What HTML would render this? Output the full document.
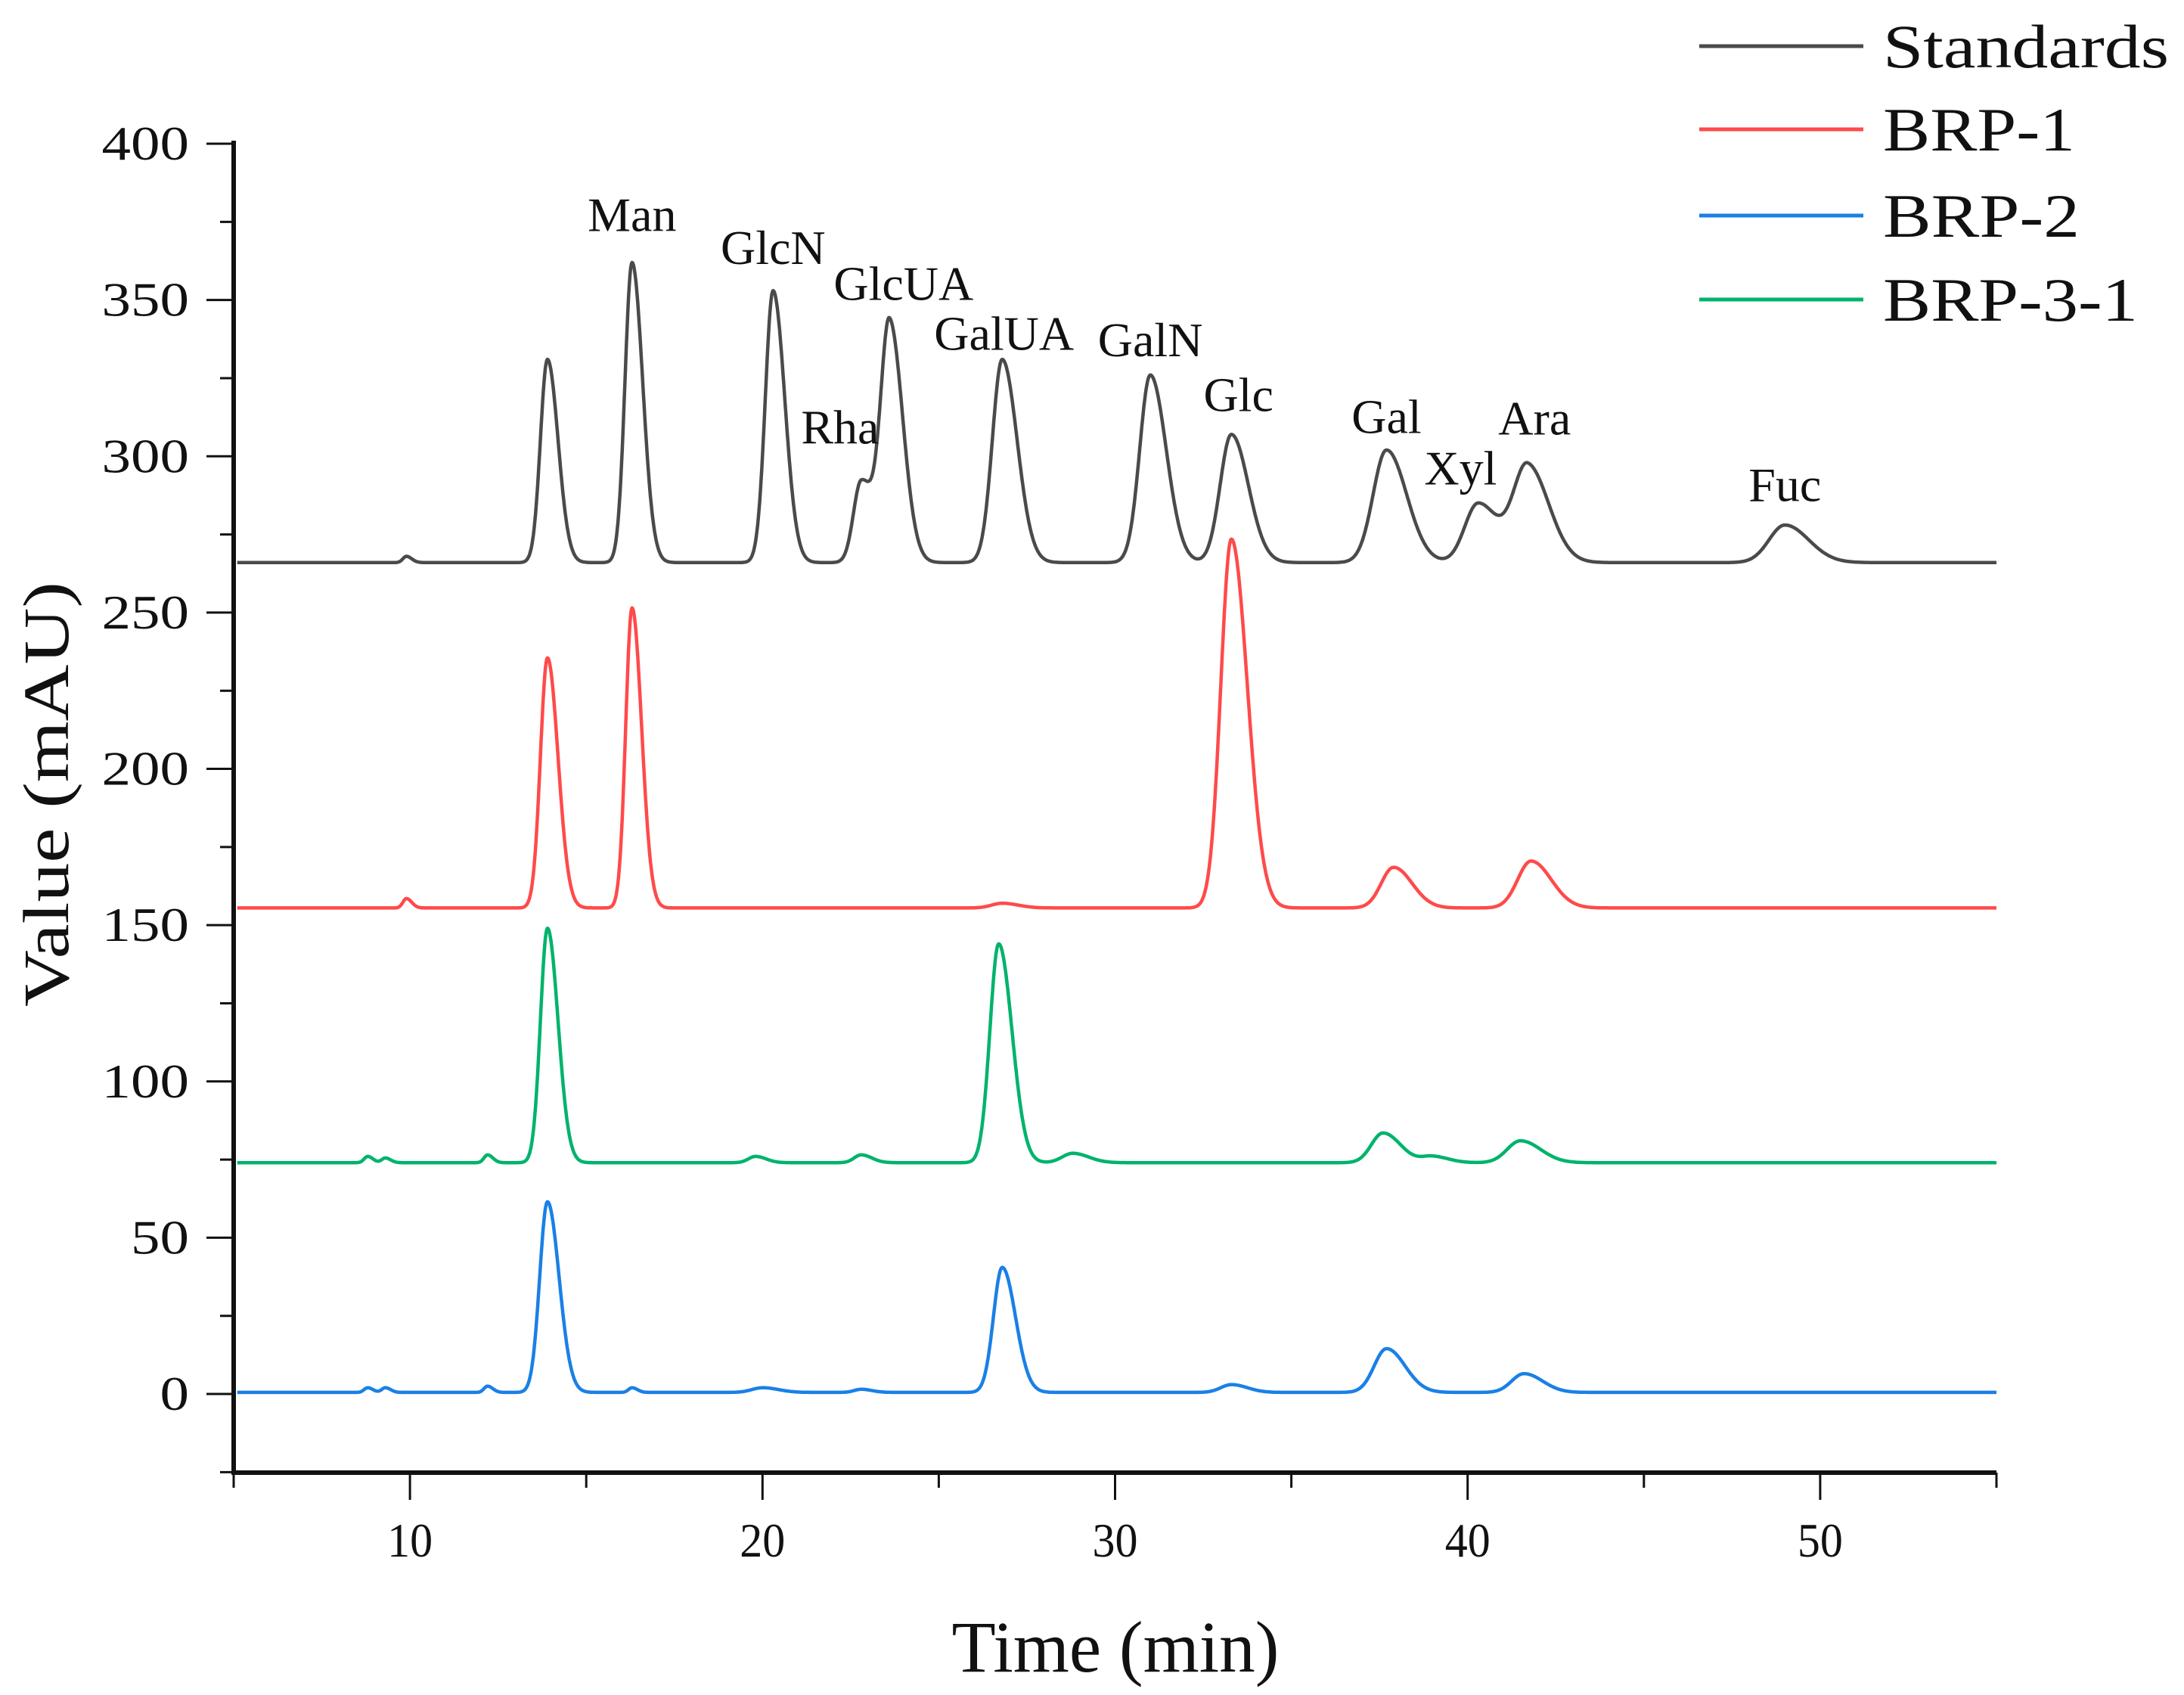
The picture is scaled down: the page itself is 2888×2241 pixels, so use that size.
<!DOCTYPE html>
<html><head><meta charset="utf-8"><style>
html,body{margin:0;padding:0;background:#fff}
svg{display:block}
text{font-family:"Liberation Serif",serif;fill:#111}
</style></head><body>
<svg id="chart" width="2888" height="2241" viewBox="0 0 2888 2241" xmlns="http://www.w3.org/2000/svg">
<g id="axes"></g>
<g id="series"></g>
<g id="labels"></g>
<g id="legend"></g>
<text x="1475" y="2210" font-size="96" text-anchor="middle" textLength="433" lengthAdjust="spacingAndGlyphs">Time (min)</text>
<text transform="translate(90,1050) rotate(-90)" font-size="86" text-anchor="middle" textLength="562" lengthAdjust="spacingAndGlyphs" fill="#222">Value (mAU)</text>
</svg>
<script>
// ---- data ----
const seriesNames = ["Standards","BRP-1","BRP-2","BRP-3-1"];
const seriesColors = ["#4a4a4a","#ff4a4a","#1a80e6","#00b36b"];
const legendWidths = [378, 254, 260, 337];
const baselines = [266, 155.5, 0.5, 74];
const stdTimes   = [9.9, 13.9, 16.3, 20.3, 22.8, 23.6, 26.8, 31.0, 33.3, 37.7, 40.3, 41.7, 49.0];
const stdHeights = [2, 65, 96, 87, 26, 77, 65, 60, 41, 36, 19, 31, 12];
const stdWidths  = [0.1, 0.2, 0.2, 0.22, 0.22, 0.25, 0.28, 0.3, 0.32, 0.38, 0.38, 0.4, 0.45];
const brp1Times   = [9.9, 13.9, 16.3, 26.8, 33.3, 37.9, 41.8];
const brp1Heights = [3, 80, 96, 1.5, 118, 13, 15];
const brp1Widths  = [0.1, 0.2, 0.18, 0.3, 0.3, 0.35, 0.38];
const brp2Times   = [8.8, 9.3, 12.2, 13.9, 16.3, 20.0, 22.8, 26.8, 33.3, 37.7, 41.6];
const brp2Heights = [1.5, 1.5, 2, 61, 1.5, 1.5, 1, 40, 2.5, 14, 6];
const brp2Widths  = [0.1, 0.1, 0.1, 0.22, 0.1, 0.3, 0.2, 0.25, 0.3, 0.35, 0.35];
const brp3Times   = [8.8, 9.3, 12.2, 13.9, 19.8, 22.8, 26.7, 28.8, 37.6, 39.0, 41.5];
const brp3Heights = [2, 1.5, 2.5, 75, 2, 2.5, 70, 3, 9.5, 2, 7];
const brp3Widths  = [0.1, 0.1, 0.1, 0.2, 0.2, 0.2, 0.25, 0.3, 0.33, 0.3, 0.38];
const peakNames = ["Man","GlcN","GlcUA","Rha","GalUA","GalN","Glc","Gal","Xyl","Ara","Fuc"];
const peakLabelTimes = [16.3, 20.3, 24.0, 22.2, 26.85, 31.0, 33.5, 37.7, 39.8, 41.9, 49.0];
const peakLabelValues = [372, 361.5, 350, 304, 334, 332, 314.5, 307.5, 291, 307, 285.7];
const yTicks = [0,50,100,150,200,250,300,350,400];
const yTickLabels = ["0","50","100","150","200","250","300","350","400"];
const xTicks = [10,20,30,40,50];
const xTickLabels = ["10","20","30","40","50"];

// ---- scales ----
const X0=309, X1=2640, XMIN=5, XMAX=55;
const Y0=1843, YPER=(1843-190)/400;
const sx = t => X0 + (t-XMIN)/(XMAX-XMIN)*(X1-X0);
const sy = v => Y0 - v*YPER;
const NS="http://www.w3.org/2000/svg";
function mk(tag, attrs, parent){const e=document.createElementNS(NS,tag);for(const k in attrs)e.setAttribute(k,attrs[k]);parent.appendChild(e);return e;}

// ---- axes ----
const ax=document.getElementById('axes');
const yAxis=mk('line',{x1:X0,y1:186,x2:X0,y2:1950,stroke:'#111','stroke-width':6},ax);


const xAxis=mk('line',{x1:X0-3,y1:1947,x2:X1,y2:1947,stroke:'#111','stroke-width':6},ax);


for(let v=-25; v<=400; v+=25){
  const major = v%50===0;
  const t=mk('line',{x1:X0-(major?36:18),y1:sy(v),x2:X0,y2:sy(v),stroke:'#111','stroke-width':3},ax);
  
  
}
yTicks.forEach((v,i)=>{
  const lab=yTickLabels[i];
  const tx=mk('text',{x:250,y:sy(v)+21,'font-size':64,'text-anchor':'end',textLength:lab.length*38.5,lengthAdjust:'spacingAndGlyphs'},ax);
  tx.textContent=lab;
  
  
});
for(let t=5; t<=55; t+=5){
  const major = t%10===0;
  const l=mk('line',{x1:sx(t),y1:1947,x2:sx(t),y2:1947+(major?36:20),stroke:'#111','stroke-width':3},ax);
  
  
}
xTicks.forEach((t,i)=>{
  const tx=mk('text',{x:sx(t),y:2058,'font-size':64,'text-anchor':'middle',textLength:60,lengthAdjust:'spacingAndGlyphs'},ax);
  tx.textContent=xTickLabels[i];
  
  
});

// ---- series ----
const sg=document.getElementById('series');
const allTimes=[stdTimes,brp1Times,brp2Times,brp3Times];
const allHeights=[stdHeights,brp1Heights,brp2Heights,brp3Heights];
const allWidths=[stdWidths,brp1Widths,brp2Widths,brp3Widths];
const seriesKeys=['standards','brp-1','brp-2','brp-3-1'];
function signal(s,t){
  let v=baselines[s];
  const T=allTimes[s],H=allHeights[s],W=allWidths[s];
  for(let i=0;i<T.length;i++){
    const d=t-T[i]; const w=d<0?W[i]:W[i]*1.5;
    v+=H[i]*Math.exp(-0.5*(d/w)*(d/w));
  }
  return v;
}
for(let s=0;s<4;s++){
  let d='';
  for(let t=XMIN+0.1;t<=XMAX+1e-9;t+=0.02){
    d+=(d?'L':'M')+sx(t).toFixed(1)+','+sy(signal(s,t)).toFixed(1);
  }
  const p=mk('path',{d:d,fill:'none',stroke:seriesColors[s],'stroke-width':4.5,'stroke-linejoin':'round'},sg);
  
  
}

// ---- peak labels ----
const lg=document.getElementById('labels');
peakNames.forEach((n,i)=>{
  const tx=mk('text',{x:sx(peakLabelTimes[i]),y:sy(peakLabelValues[i]),'font-size':64,'text-anchor':'middle'},lg);
  tx.textContent=n;
  
  
});

// ---- legend ----
const lgd=document.getElementById('legend');
const legendYs=[61,171,285,396];
seriesNames.forEach((n,i)=>{
  const l=mk('line',{x1:2247,y1:legendYs[i],x2:2464,y2:legendYs[i],stroke:seriesColors[i],'stroke-width':5},lgd);
  
  
  const tx=mk('text',{x:2490,y:legendYs[i]+28,'font-size':82,textLength:legendWidths[i],lengthAdjust:'spacingAndGlyphs'},lgd);
  tx.textContent=n;
  
  
});
</script>
</body></html>
